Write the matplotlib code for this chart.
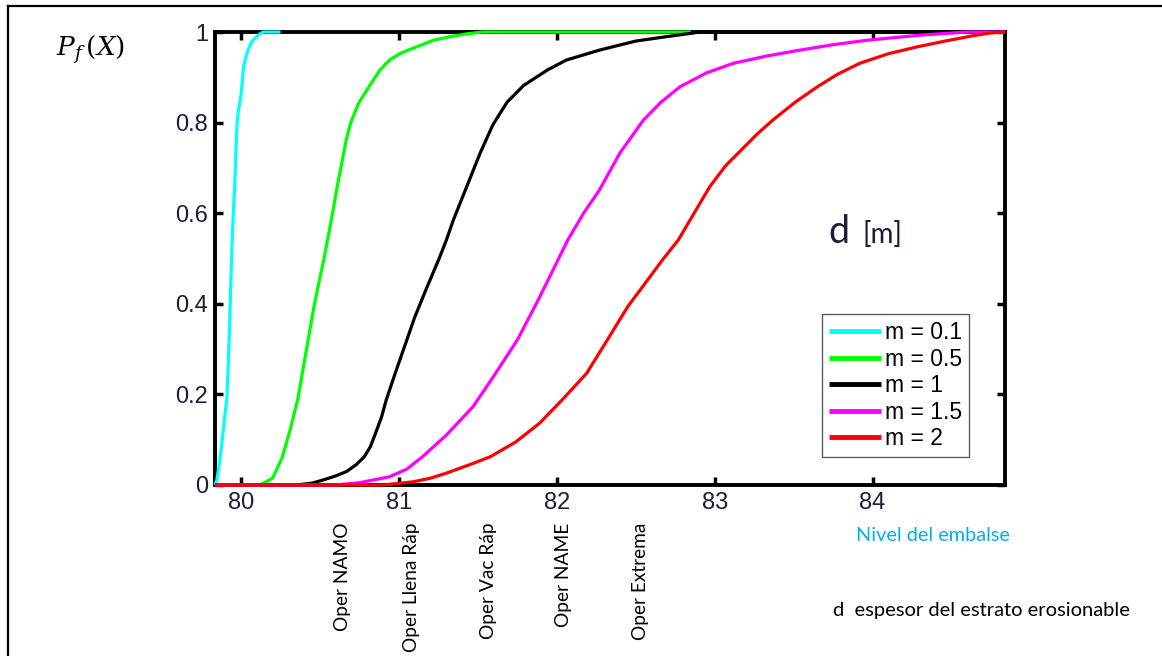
import numpy as np
import matplotlib
matplotlib.use("Agg")
import matplotlib.pyplot as plt
from matplotlib.lines import Line2D

plt.rcParams['mathtext.fontset'] = 'dejavuserif'

# curves (nivel del embalse, probabilidad)
x_m01 = [79.835, 79.846, 79.86, 79.875, 79.89, 79.90, 79.91, 79.92, 79.93, 79.94, 79.95, 79.96, 79.968, 79.975,
         79.985, 80.0, 80.015, 80.03, 80.044, 80.07, 80.10, 80.12, 80.14, 80.25]
p_m01 = [0.0, 0.01, 0.04, 0.08, 0.13, 0.16, 0.19, 0.27, 0.38, 0.5, 0.59, 0.66, 0.74, 0.8,
         0.83, 0.86, 0.92, 0.945, 0.96, 0.98, 0.99, 0.996, 1.0, 1.0]

x_m05 = [79.835, 80.12, 80.2, 80.26, 80.31, 80.36, 80.385, 80.41, 80.435, 80.46, 80.495, 80.526, 80.553, 80.58,
         80.61, 80.638, 80.665, 80.695, 80.745, 80.81, 80.88, 80.94, 81.01, 81.11, 81.22, 81.33, 81.43, 81.53, 82.85]
p_m05 = [0.0, 0.0, 0.015, 0.06, 0.12, 0.19, 0.24, 0.29, 0.34, 0.39, 0.45, 0.5, 0.55, 0.6,
         0.66, 0.71, 0.76, 0.8, 0.843, 0.879, 0.916, 0.938, 0.953, 0.967, 0.982, 0.99, 0.996, 1.0, 1.0]

x_m1 = [79.835, 80.35, 80.45, 80.52, 80.6, 80.67, 80.73, 80.78, 80.82, 80.855, 80.89, 80.92, 80.98, 81.04, 81.1,
        81.17, 81.255, 81.3, 81.345, 81.43, 81.515, 81.595, 81.685, 81.79, 81.94, 82.06, 82.27, 82.5, 82.7, 82.91, 84.84]
p_m1 = [0.0, 0.0, 0.004, 0.011, 0.02, 0.03, 0.045, 0.062, 0.085, 0.117, 0.15, 0.188, 0.25, 0.31, 0.37,
        0.43, 0.5, 0.54, 0.585, 0.659, 0.733, 0.795, 0.845, 0.882, 0.916, 0.938, 0.96, 0.98, 0.99, 1.0, 1.0]

x_m15 = [79.835, 80.6, 80.75, 80.94, 81.05, 81.15, 81.3, 81.47, 81.6, 81.75, 81.87, 81.97, 82.07, 82.17, 82.27,
         82.40, 82.55, 82.66, 82.78, 82.95, 83.12, 83.33, 83.54, 83.75, 83.97, 84.3, 84.6, 84.84]
p_m15 = [0.0, 0.0, 0.005, 0.018, 0.035, 0.0625, 0.11, 0.173, 0.24, 0.32, 0.4, 0.47, 0.541, 0.6, 0.651,
         0.733, 0.806, 0.845, 0.879, 0.91, 0.931, 0.947, 0.96, 0.972, 0.982, 0.993, 1.0, 1.0]

x_m2 = [79.835, 80.9, 81.09, 81.2, 81.30, 81.45, 81.58, 81.74, 81.89, 82.04, 82.19, 82.32, 82.45, 82.57, 82.67,
        82.77, 82.87, 82.97, 83.07, 83.17, 83.27, 83.37, 83.51, 83.65, 83.78, 83.92, 84.1, 84.28, 84.46, 84.64,
        84.75, 84.84]
p_m2 = [0.0, 0.0, 0.007, 0.015, 0.026, 0.045, 0.0625, 0.095, 0.136, 0.19, 0.247, 0.32, 0.394, 0.45, 0.497,
        0.541, 0.6, 0.659, 0.705, 0.74, 0.775, 0.806, 0.845, 0.879, 0.907, 0.931, 0.952, 0.967, 0.98, 0.992,
        0.998, 1.0]

labels = ['m = 0.1', 'm = 0.5', 'm = 1', 'm = 1.5', 'm = 2']
colors = ['#00ffff', '#00ff00', '#000000', '#ff00ff', '#ff0000']

x_ticks = [80, 81, 82, 83, 84]
y_ticks = [0, 0.2, 0.4, 0.6, 0.8, 1]
y_ticklabels = ['0', '0.2', '0.4', '0.6', '0.8', '1']

oper_labels = ['Oper NAMO', 'Oper Llena Ráp', 'Oper Vac Ráp', 'Oper NAME', 'Oper Extrema']
oper_x = [80.64, 81.08, 81.57, 82.04, 82.53]

fig = plt.figure(figsize=(11.62, 6.56), dpi=100)
ax = fig.add_axes([0.185, 0.2607, 0.68, 0.6905])

curves = [(x_m01, p_m01), (x_m05, p_m05), (x_m1, p_m1), (x_m15, p_m15), (x_m2, p_m2)]
for (xs, ps), lab, c in zip(curves, labels, colors):
    ax.plot(xs, ps, color=c, lw=2.3, label=lab, solid_joinstyle='round',
            solid_capstyle='butt', zorder=3, clip_on=False)

ax.set_xlim(79.835, 84.84)
ax.set_ylim(0, 1)
ax.set_xticks(x_ticks)
ax.set_yticks(y_ticks)
ax.set_yticklabels(y_ticklabels)
ax.tick_params(direction='in', length=6, width=2.5, top=True, right=True,
               labelsize=17, labelcolor='#1c1c3c', pad=5)
for lab in ax.get_xticklabels() + ax.get_yticklabels():
    lab.set_family('Liberation Sans')
for sp in ax.spines.values():
    sp.set_linewidth(2.8)

leg = ax.legend(loc='lower left', bbox_to_anchor=(0.768, 0.062), frameon=True,
                fancybox=False, edgecolor='#333333', handlelength=2.3,
                handletextpad=0.15, labelspacing=0.15, borderpad=0.3,
                borderaxespad=0, prop={'family': 'Liberation Sans', 'size': 16.5})
leg.get_frame().set_linewidth(1.0)
leg.set_zorder(6)
for h in leg.get_lines():
    h.set_linewidth(3.5)

# P_f(X) label
fig.text(0.048, 0.925, r'$P_f\,(X)$', fontsize=19, ha='left', va='center')

# d [m]
fig.text(0.713, 0.629, 'd', fontsize=27, family='Lato', color='#1c1c3c', ha='left', va='baseline')
fig.text(0.742, 0.629, '[m]', fontsize=20, family='Lato', color='#1c1c3c', ha='left', va='baseline')

for lab, xv in zip(oper_labels, oper_x):
    ax.text(xv, -0.083, lab, rotation=90, ha='center', va='top', fontsize=13.8,
            family='Lato', transform=ax.get_xaxis_transform())

fig.text(0.737, 0.183, 'Nivel del embalse', color='#00b0f0', fontsize=14.3,
         family='Lato', ha='left', va='center')
fig.text(0.717, 0.070, 'd  espesor del estrato erosionable', color='black',
         fontsize=14.5, family='Lato', ha='left', va='center')

# outer frame (left and top edges)
fig.add_artist(Line2D([0.0069, 0.0069], [0.0, 0.9909], color='black', lw=1.6,
                      transform=fig.transFigure))
fig.add_artist(Line2D([0.0069, 1.0], [0.9909, 0.9909], color='black', lw=1.6,
                      transform=fig.transFigure))

fig.savefig('out.png', dpi=100)
